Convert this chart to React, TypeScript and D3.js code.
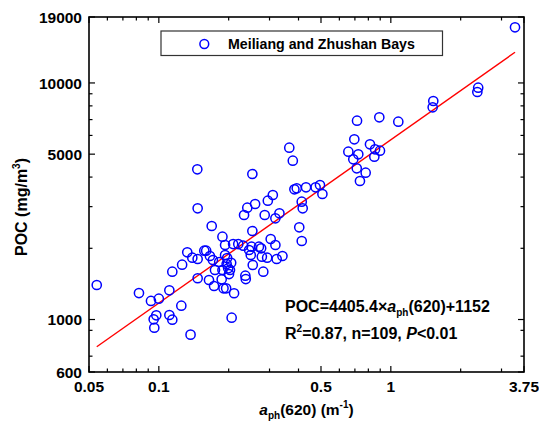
import React, { useEffect, useRef } from "react";
import * as d3 from "d3";

// a_ph(620), m^-1
const aph620 = [
  0.054, 0.0821, 0.0925, 0.1, 0.095, 0.0975, 0.0956, 0.111, 0.1143, 0.111,
  0.1143, 0.137, 0.125, 0.126, 0.1326, 0.1394, 0.147, 0.147, 0.1465, 0.147,
  0.157, 0.16, 0.169, 0.1645, 0.173, 0.171, 0.1746, 0.188, 0.193, 0.193,
  0.188, 0.1866, 0.195, 0.199, 0.205, 0.209, 0.206, 0.211, 0.22, 0.231,
  0.196, 0.2026, 0.236, 0.237, 0.233, 0.2406, 0.26, 0.253, 0.253, 0.251,
  0.249, 0.254, 0.27, 0.276, 0.278, 0.286, 0.282, 0.293, 0.295, 0.31,
  0.318, 0.331, 0.3035, 0.318, 0.322, 0.341, 0.365, 0.378, 0.384, 0.393,
  0.431, 0.474, 0.495, 0.507, 0.413, 0.417, 0.403, 0.413, 0.656, 0.715,
  0.892, 1.077, 0.696, 0.724, 0.689, 0.813, 0.855, 0.898, 0.849, 0.713,
  0.779, 0.736, 3.43, 2.38, 2.36, 1.524, 1.515, 0.197, 0.2007, 0.182,
  0.245, 0.19, 0.166,
];

// POC, mg/m3
const poc = [
  1399, 1294, 1198, 1225, 1002, 1042, 923, 1045, 998, 1329,
  1593, 863, 1144, 1705, 1924, 1825, 1802, 2952, 4315, 1494,
  1954, 1954, 2485, 1469, 1386, 1785, 1619, 2239, 2065, 1874,
  1619, 1479, 1355, 1646, 1738, 2085, 1018, 1291, 2085, 2051,
  1717, 1619, 1532, 1483, 2766, 2969, 3078, 4122, 2367, 2031,
  1874, 1700, 2031, 2000, 1843, 2766, 1593, 1825, 3179, 3360,
  2678, 2812, 2189, 2065, 1802, 1856, 5325, 4692, 3551, 3586,
  3621, 3621, 3703, 3393, 3148, 2952, 2453, 2147, 5122, 6925,
  7158, 6859, 5778, 4993, 4756, 5504, 5242, 5171, 4878, 4357,
  4175, 3851, 17186, 9547, 9157, 8389, 7889, 1820, 1557, 1750,
  1967, 1355, 1856,
];

// fitted line end points
const fitX = [0.054, 3.43];
const fitY = [767, 13480];

const xMajorTicks = [0.05, 0.1, 0.5, 1, 3.75];
const xTickLabels = ["0.05", "0.1", "0.5", "1", "3.75"];
const xMinorTicks = [0.06, 0.07, 0.08, 0.09, 0.2, 0.3, 0.4, 0.6, 0.7, 0.8, 0.9, 2, 3];

const yMajorTicks = [600, 1000, 5000, 10000, 19000];
const yTickLabels = ["600", "1000", "5000", "10000", "19000"];
const yMinorTicks = [700, 900, 2000, 3000, 4000, 6000, 7000, 8000, 9000];

const seriesName = "Meiliang and Zhushan Bays";

const App = () => {
  const chartRef = useRef<SVGSVGElement | null>(null);

  useEffect(() => {
    const svg = d3.select(chartRef.current);
    svg.selectAll("*").remove();

    const left = 89;
    const right = 524;
    const top = 17;
    const bottom = 372;
    const font = "Arial, 'Liberation Sans', sans-serif";

    const x = d3.scaleLog().domain([0.05, 3.75]).range([left, right]);
    const y = d3.scaleLog().domain([600, 19000]).range([bottom, top]);

    // ticks, inward on all four sides
    const tickGroup = svg.append("g").attr("stroke", "#000").attr("stroke-width", 1.2);
    const addXTicks = (vals: number[], len: number) => {
      vals.forEach((v) => {
        tickGroup.append("line").attr("x1", x(v)).attr("x2", x(v)).attr("y1", bottom).attr("y2", bottom - len);
        tickGroup.append("line").attr("x1", x(v)).attr("x2", x(v)).attr("y1", top).attr("y2", top + len);
      });
    };
    const addYTicks = (vals: number[], len: number) => {
      vals.forEach((v) => {
        tickGroup.append("line").attr("x1", left).attr("x2", left + len).attr("y1", y(v)).attr("y2", y(v));
        tickGroup.append("line").attr("x1", right).attr("x2", right - len).attr("y1", y(v)).attr("y2", y(v));
      });
    };
    addXTicks(xMajorTicks, 6);
    addXTicks(xMinorTicks, 3.5);
    addYTicks(yMajorTicks, 6);
    addYTicks(yMinorTicks, 3.5);

    // frame
    svg
      .append("rect")
      .attr("x", left)
      .attr("y", top)
      .attr("width", right - left)
      .attr("height", bottom - top)
      .attr("fill", "none")
      .attr("stroke", "#000")
      .attr("stroke-width", 1.6);

    // tick labels
    svg
      .append("g")
      .selectAll("text")
      .data(xMajorTicks)
      .join("text")
      .attr("x", (d) => x(d))
      .attr("y", 392)
      .attr("text-anchor", "middle")
      .style("font", `bold 15.5px ${font}`)
      .text((d, i) => xTickLabels[i]);

    svg
      .append("g")
      .selectAll("text")
      .data(yMajorTicks)
      .join("text")
      .attr("x", 82)
      .attr("y", (d) => y(d))
      .attr("dy", "0.36em")
      .attr("text-anchor", "end")
      .style("font", `bold 15.5px ${font}`)
      .text((d, i) => yTickLabels[i]);

    // regression line
    const line = d3
      .line<number>()
      .x((d) => x(d))
      .y((d, i) => y(fitY[i]));
    svg
      .append("path")
      .attr("d", line(fitX))
      .attr("fill", "none")
      .attr("stroke", "#ff0000")
      .attr("stroke-width", 1.4);

    // points
    svg
      .append("g")
      .selectAll("circle")
      .data(aph620)
      .join("circle")
      .attr("cx", (d) => x(d))
      .attr("cy", (d, i) => y(poc[i]))
      .attr("r", 4.6)
      .attr("fill", "none")
      .attr("stroke", "#0000ff")
      .attr("stroke-width", 1.5);

    // legend
    svg
      .append("rect")
      .attr("x", 161)
      .attr("y", 31)
      .attr("width", 281.5)
      .attr("height", 24.5)
      .attr("fill", "#fff")
      .attr("stroke", "#333")
      .attr("stroke-width", 1.2);
    svg
      .append("circle")
      .attr("cx", 204.3)
      .attr("cy", 44)
      .attr("r", 4.4)
      .attr("fill", "none")
      .attr("stroke", "#0000ff")
      .attr("stroke-width", 1.5);
    svg
      .append("text")
      .attr("x", 228)
      .attr("y", 49)
      .style("font", `bold 14.2px ${font}`)
      .text(seriesName);

    // equation
    const eq = svg.append("text").attr("x", 285).attr("y", 311.5).style("font", `bold 16px ${font}`);
    eq.append("tspan").text("POC=4405.4×");
    eq.append("tspan").style("font-style", "italic").text("a");
    eq.append("tspan").attr("dy", 4).style("font-size", "10px").text("ph");
    eq.append("tspan").attr("dy", -4).text("(620)+1152");

    const stat = svg.append("text").attr("x", 285).attr("y", 339).style("font", `bold 16px ${font}`);
    stat.append("tspan").text("R");
    stat.append("tspan").attr("dy", -7).style("font-size", "10px").text("2");
    stat.append("tspan").attr("dy", 7).text("=0.87, n=109, ");
    stat.append("tspan").style("font-style", "italic").text("P");
    stat.append("tspan").text("<0.01");

    // axis titles
    const xt = svg
      .append("text")
      .attr("x", (left + right) / 2)
      .attr("y", 415)
      .attr("text-anchor", "middle")
      .style("font", `bold 15.5px ${font}`);
    xt.append("tspan").style("font-style", "italic").text("a");
    xt.append("tspan").attr("dy", 4).style("font-size", "10px").text("ph");
    xt.append("tspan").attr("dy", -4).text("(620) (m");
    xt.append("tspan").attr("dy", -7).style("font-size", "10px").text("-1");
    xt.append("tspan").attr("dy", 7).text(")");

    const yt = svg
      .append("text")
      .attr("transform", "translate(27, 207) rotate(-90)")
      .attr("text-anchor", "middle")
      .style("font", `bold 16px ${font}`);
    yt.append("tspan").text("POC (mg/m");
    yt.append("tspan").attr("dy", -7).style("font-size", "10px").text("3");
    yt.append("tspan").attr("dy", 7).text(")");
  }, []);

  return (
    <svg
      ref={chartRef}
      width={539}
      height={430}
      style={{ position: "absolute", left: 0, top: 0, background: "#fff" }}
    />
  );
};

export default App;
